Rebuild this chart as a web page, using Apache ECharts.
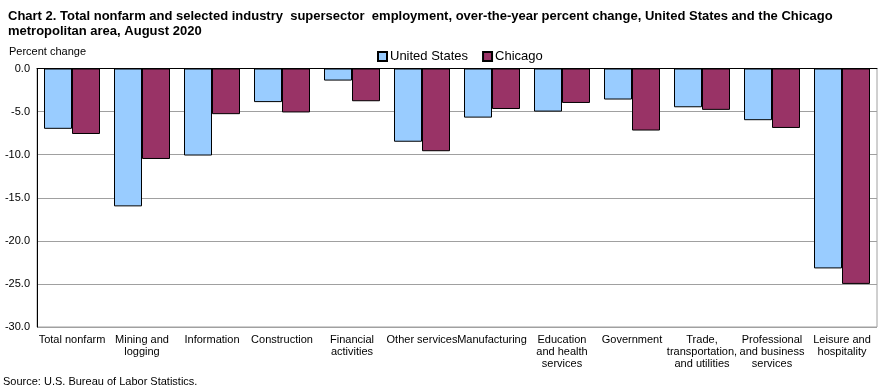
<!DOCTYPE html>
<html><head><meta charset="utf-8">
<script src="https://cdn.jsdelivr.net/npm/echarts@6/dist/echarts.min.js"></script>
<style>html,body{margin:0;padding:0;background:#fff}#c{width:889px;height:392px}</style>
</head><body><div id="c"></div>
<script>
const categories = ["Total nonfarm","Mining and\nlogging","Information","Construction","Financial\nactivities","Other services","Manufacturing","Education\nand health\nservices","Government","Trade,\ntransportation,\nand utilities","Professional\nand business\nservices","Leisure and\nhospitality"];
const usValues = [-7.0,-16.0,-10.1,-3.9,-1.4,-8.5,-5.7,-5.0,-3.6,-4.5,-6.0,-23.2];
const chicagoValues = [-7.6,-10.5,-5.3,-5.1,-3.8,-9.6,-4.7,-4.0,-7.2,-4.8,-6.9,-25.0];
const seriesNames = ["United States","Chicago"];
const yTicks = {min:-30, max:0, interval:5};

const FONT = "Liberation Sans, Arial, sans-serif";
const chart = echarts.init(document.getElementById('c'));
chart.setOption({
  animation:false,
  textStyle:{fontFamily:FONT},
  title:[{
    text:"Chart 2. Total nonfarm and selected industry  supersector  employment, over-the-year percent change, United States and the Chicago\nmetropolitan area, August 2020",
    left:8, top:9, padding:0,
    textStyle:{fontFamily:FONT,fontSize:13,fontWeight:'bold',color:'#000',lineHeight:15}
  },{
    text:"Percent change", left:9, top:46, padding:0,
    textStyle:{fontFamily:FONT,fontSize:11,fontWeight:'normal',color:'#000'}
  },{
    text:"Source: U.S. Bureau of Labor Statistics.", left:3, top:376, padding:0,
    textStyle:{fontFamily:FONT,fontSize:11,fontWeight:'normal',color:'#000'}
  }],
  legend:{
    data:seriesNames, left:377, top:50, padding:0, itemWidth:9, itemHeight:9, itemGap:14,
    icon:'rect',
    textStyle:{fontFamily:FONT,fontSize:13,color:'#000',padding:[0,0,0,-2]}
  },
  grid:{left:37, right:12, top:68.5, bottom:65, show:true, borderColor:'#a0a0a0', borderWidth:1},
  xAxis:[{
    type:'category', data:categories, position:'bottom',
    axisLine:{onZero:false, show:false},
    axisTick:{show:false},
    axisLabel:{interval:0, fontFamily:FONT, fontSize:11, color:'#000', lineHeight:12, margin:7}
  },{
    type:'category', data:categories, position:'top',
    axisLine:{show:true, lineStyle:{color:'#000', width:1}},
    axisTick:{show:false}, axisLabel:{show:false}
  }],
  yAxis:{
    type:'value', min:yTicks.min, max:yTicks.max, interval:yTicks.interval,
    axisLine:{show:true, lineStyle:{color:'#000'}},
    axisTick:{show:false},
    axisLabel:{formatter:v=>v.toFixed(1), fontFamily:FONT, fontSize:11, color:'#000', margin:7},
    splitLine:{lineStyle:{color:'#a0a0a0', width:1}}
  },
  series:[{
    name:seriesNames[0], type:'bar', data:usValues, barGap:'0%', barCategoryGap:'20%',
    itemStyle:{color:'#99CCFF', borderColor:'#000', borderWidth:1}
  },{
    name:seriesNames[1], type:'bar', data:chicagoValues, barGap:'0%', barCategoryGap:'20%',
    itemStyle:{color:'#993366', borderColor:'#000', borderWidth:1}
  }]
});
</script></body></html>
